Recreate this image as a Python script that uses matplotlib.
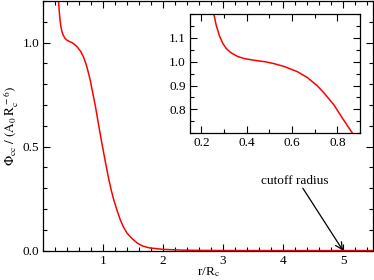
import matplotlib
matplotlib.use("Agg")
import matplotlib.pyplot as plt
from matplotlib.ticker import MultipleLocator, FixedLocator

plt.rcParams['font.family'] = ['Liberation Serif', 'DejaVu Serif']
plt.rcParams['mathtext.fontset'] = 'stix'

# curve
r = [0.245, 0.255, 0.265, 0.28, 0.295, 0.31, 0.33, 0.36, 0.39, 0.434, 0.48,
     0.52, 0.565, 0.624, 0.668, 0.71, 0.74, 0.785, 0.82, 0.866, 0.914, 0.972,
     1.029, 1.086, 1.13, 1.172, 1.23, 1.286, 1.34, 1.40, 1.48, 1.573, 1.66,
     1.77, 2.0, 2.3, 2.6, 3.0, 3.5, 4.0, 5.0, 5.5]
phi = [1.25, 1.20, 1.155, 1.108, 1.076, 1.055, 1.038, 1.022, 1.013, 1.006,
       1.0, 0.992, 0.980, 0.958, 0.933, 0.900, 0.870, 0.818, 0.766, 0.70,
       0.62, 0.525, 0.437, 0.352, 0.295, 0.248, 0.194, 0.147, 0.112, 0.083,
       0.058, 0.035, 0.022, 0.013, 0.006, 0.0025, 0.001, 0.0004, 0.0001,
       0.0, 0.0, 0.0]

cutoff = 5.0
label_cutoff = "cutoff radius"

fig = plt.figure(figsize=(3.74, 2.80), dpi=100)
fs = 9.5


def style(ax):
    ax.tick_params(which='both', direction='in', top=True, right=True,
                   labelsize=fs, width=0.8, colors='black', pad=3)
    ax.tick_params(which='major', length=5)
    ax.tick_params(which='minor', length=3)
    for s in ax.spines.values():
        s.set_linewidth(0.9)


# main axes
ax = fig.add_axes([0.1157, 0.105, 0.8816, 0.891])
ax.plot(r, phi, color='red', lw=1.1)
ax.set_xlim(0, 5.5)
ax.set_ylim(0, 1.2)
ax.xaxis.set_major_locator(FixedLocator([1, 2, 3, 4, 5]))
ax.xaxis.set_minor_locator(MultipleLocator(0.2))
ax.yaxis.set_major_locator(FixedLocator([0.0, 0.5, 1.0]))
ax.yaxis.set_minor_locator(MultipleLocator(0.1))
ax.set_yticklabels(['0.0', '0.5', '1.0'])
style(ax)
ax.set_xlabel(r'r/R$_\mathrm{c}$', fontsize=fs, labelpad=-1)
ax.set_ylabel(r'$\Phi_{\mathrm{cc}}\ /\ (\mathrm{A}_0\,\mathrm{R}_\mathrm{c}^{\,-6})$',
              fontsize=fs, labelpad=1)

ax.text(4.2, 0.334, label_cutoff, fontsize=fs, ha='center', va='center')
ax.annotate('', xy=(cutoff, 0.0), xytext=(4.33, 0.30),
            arrowprops=dict(arrowstyle='->,head_length=0.5,head_width=0.25',
                            color='black', lw=0.9, shrinkA=0, shrinkB=0))

# inset
axi = fig.add_axes([0.508, 0.524, 0.455, 0.426])
axi.plot(r, phi, color='red', lw=1.1)
axi.set_xlim(0.15, 0.9)
axi.set_ylim(0.7, 1.2)
axi.xaxis.set_major_locator(FixedLocator([0.2, 0.4, 0.6, 0.8]))
axi.xaxis.set_minor_locator(MultipleLocator(0.1))
axi.yaxis.set_major_locator(FixedLocator([0.8, 0.9, 1.0, 1.1]))
axi.yaxis.set_minor_locator(MultipleLocator(0.05))
axi.set_xticklabels(['0.2', '0.4', '0.6', '0.8'])
axi.set_yticklabels(['0.8', '0.9', '1.0', '1.1'])
style(axi)

fig.savefig('out.png', dpi=100)
